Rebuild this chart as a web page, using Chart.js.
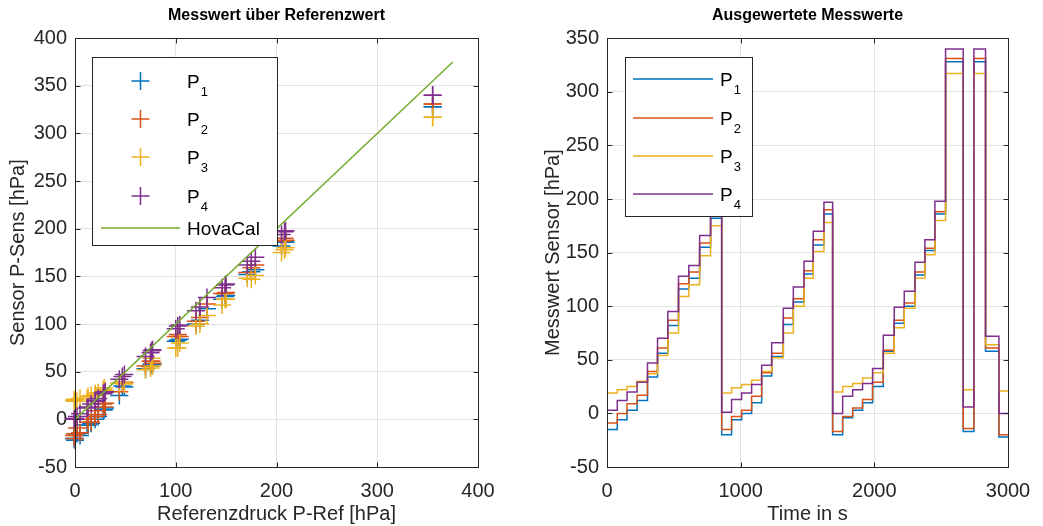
<!DOCTYPE html>
<html lang="de">
<head>
<meta charset="utf-8">
<title>Messwerte</title>
<script src="https://cdn.jsdelivr.net/npm/chart.js@4.4.1/dist/chart.umd.min.js"></script>
<style>
  html, body { margin: 0; padding: 0; background: #fff; }
  #wrap { position: relative; width: 1043px; height: 526px; overflow: hidden; }
  canvas { position: absolute; top: 0; }
  #chart-ref { left: 0; }
  #chart-time { left: 530px; }
</style>
</head>
<body>
<div id="wrap">
  <canvas id="chart-ref" width="521" height="526"></canvas>
  <canvas id="chart-time" width="513" height="526"></canvas>
</div>
<script>
// Beginn jeder Druckstufe [s]: drei Rampen, danach Sprünge auf Vollausschlag
const stepStart = [
  0, 77, 150, 225, 303, 378, 455, 535, 612, 693, 775,
  858, 932, 1007, 1082, 1157, 1232, 1319, 1394, 1474, 1543, 1623,
  1688, 1763, 1838, 1912, 1987, 2067, 2149, 2224, 2304, 2378, 2453,
  2533, 2665, 2745, 2832, 2932
];
const timeEnd = 3000;

// Referenzdruck je Stufe [hPa]
const stepRef = [
  2, 12, 20, 30, 49, 75, 100, 131, 146, 175, 205,
  0, 13, 20, 28, 47, 70, 102, 124, 150, 179, 208,
  -1, 16, 23, 29, 44, 77, 104, 120, 149, 171, 209,
  355, 5, 355, 76, 0
];

// Sensorwerte je Stufe [hPa]
const p1 = [
  -15, -6, 3, 12, 34, 56, 82, 116, 126, 155, 182,
  -20, -6, 0, 10, 35, 53, 83, 104, 130, 157, 186,
  -20, -4, 3, 10, 25, 58, 84, 100, 129, 152, 186,
  328, -17, 328, 58, -22
];
const p2 = [
  -9, 0, 9, 17, 39, 61, 87, 121, 132, 159, 187,
  -15, -3, 3, 16, 38, 56, 89, 107, 133, 162, 190,
  -17, -3, 5, 13, 29, 59, 87, 103, 132, 154, 188,
  331, -14, 331, 61, -20
];
const p3 = [
  19, 22, 25, 30, 37, 54, 75, 109, 120, 147, 175,
  19, 24, 27, 31, 39, 52, 75, 100, 126, 151, 178,
  20, 25, 28, 33, 38, 56, 80, 98, 126, 148, 180,
  317, 22, 317, 64, 21
];
const p4 = [
  3, 12, 20, 29, 47, 70, 95, 128, 138, 166, 194,
  1, 13, 19, 27, 45, 66, 98, 118, 142, 170, 197,
  0, 16, 22, 28, 42, 73, 99, 114, 141, 162, 198,
  340, 6, 340, 72, 0
];

// Kalibrierkennlinie HovaCal
const calRef = [0, 375];
const calSens = [0, 375];

const sensorLabels = ["P1", "P2", "P3", "P4"];
const sensorValues = [p1, p2, p3, p4];
const sensorColors = ["#0072BD", "#D95319", "#EDB120", "#7E2F8E"];
const calColor = "#77AC30";

const FONT = "'Liberation Sans', Arial, Helvetica, sans-serif";
const INK = "#262626";
const GRID = "#e3e3e3";

// Achsenrahmen mit Innen-Ticks und Legende mit tiefgestellten Indizes
const axesFrame = {
  id: "axesFrame",
  afterDatasetsDraw(chart, args, opts) {
    const { ctx, chartArea: a, scales } = chart;
    const L = Math.round(a.left) + 0.5;
    const R = Math.round(a.right) + 0.5;
    const T = Math.round(a.top) + 0.5;
    const B = Math.round(a.bottom) + 0.5;
    ctx.save();
    ctx.strokeStyle = INK;
    ctx.lineWidth = 1;
    ctx.beginPath();
    scales.x.ticks.forEach((t) => {
      const px = Math.round(scales.x.getPixelForValue(t.value)) + 0.5;
      ctx.moveTo(px, B); ctx.lineTo(px, B - 5);
      ctx.moveTo(px, T); ctx.lineTo(px, T + 5);
    });
    scales.y.ticks.forEach((t) => {
      const py = Math.round(scales.y.getPixelForValue(t.value)) + 0.5;
      ctx.moveTo(L, py); ctx.lineTo(L + 5, py);
      ctx.moveTo(R, py); ctx.lineTo(R - 5, py);
    });
    ctx.stroke();
    ctx.strokeRect(L, T, R - L, B - T);

    if (opts && opts.box) {
      const [bx, by, bw, bh] = opts.box;
      ctx.fillStyle = "#fff";
      ctx.fillRect(bx, by, bw, bh);
      ctx.strokeRect(bx + 0.5, by + 0.5, bw, bh);
      chart.data.datasets.forEach((ds, i) => {
        const y = opts.rowY[i];
        const [s0, s1] = opts.symbolX;
        ctx.strokeStyle = ds.borderColor;
        ctx.lineWidth = 1.5;
        ctx.beginPath();
        if (ds.showLine === false) {
          const cx = (s0 + s1) / 2;
          ctx.moveTo(cx - 9, y); ctx.lineTo(cx + 9, y);
          ctx.moveTo(cx, y - 9); ctx.lineTo(cx, y + 9);
        } else {
          ctx.moveTo(s0, y); ctx.lineTo(s1, y);
        }
        ctx.stroke();
        const m = ds.label.match(/^(.*?)(\d+)$/);
        ctx.fillStyle = "#000";
        ctx.textAlign = "left";
        ctx.textBaseline = "alphabetic";
        ctx.font = `${opts.fontSize}px ${FONT}`;
        const base = m ? m[1] : ds.label;
        ctx.fillText(base, opts.textX, y + opts.fontSize * 0.36);
        if (m) {
          const w = ctx.measureText(base).width;
          ctx.font = `${opts.subSize}px ${FONT}`;
          ctx.fillText(m[2], opts.textX + w + 1, y + opts.fontSize * 0.36 + opts.subSize * 0.62);
        }
      });
    }
    ctx.restore();
  }
};

function axisX(min, max, step, label) {
  return {
    type: "linear", min, max,
    ticks: { stepSize: step, color: INK, font: { family: FONT, size: 20 }, padding: 12,
             maxRotation: 0, autoSkip: false, callback: (v) => String(v) },
    grid: { color: GRID, drawTicks: false },
    border: { display: false },
    title: { display: true, text: label, color: INK, font: { family: FONT, size: 20 },
             padding: { top: 0, bottom: 0 } },
    afterFit(scale) { scale.height = 59; }
  };
}

function axisY(min, max, step, label, width, titlePad) {
  return {
    type: "linear", min, max,
    ticks: { stepSize: step, color: INK, font: { family: FONT, size: 20 }, padding: 8,
             autoSkip: false, callback: (v) => String(v) },
    grid: { color: GRID, drawTicks: false },
    border: { display: false },
    title: { display: true, text: label, color: INK, font: { family: FONT, size: 20 },
             padding: { top: titlePad, bottom: 0 } },
    afterFit(scale) { scale.width = width; }
  };
}

function titleOpts(text) {
  return {
    display: true, text, fullSize: false, color: "#000",
    font: { family: FONT, size: 16, weight: "bold" },
    padding: { top: 6, bottom: 13 }
  };
}

// Messwert über Referenzwert
const refSets = sensorLabels.map((label, k) => ({
  label,
  data: stepRef.map((r, i) => ({ x: r, y: sensorValues[k][i] })),
  showLine: false,
  borderColor: sensorColors[k],
  backgroundColor: sensorColors[k],
  pointStyle: "cross",
  pointRadius: 9,
  pointBorderWidth: 1.5,
  clip: false,
  order: 5 - k
}));
refSets.push({
  type: "line",
  label: "HovaCal",
  data: calRef.map((r, i) => ({ x: r, y: calSens[i] })),
  borderColor: calColor,
  borderWidth: 1.5,
  pointRadius: 0,
  order: 0
});

new Chart(document.getElementById("chart-ref"), {
  type: "scatter",
  data: { datasets: refSets },
  options: {
    responsive: false, animation: false, events: [],
    layout: { padding: { left: 0, right: 43, top: 0, bottom: 0 } },
    plugins: {
      legend: { display: false },
      tooltip: { enabled: false },
      title: titleOpts("Messwert über Referenzwert"),
      axesFrame: {
        box: [92, 57, 185, 188],
        rowY: [81, 119, 157, 196, 228],
        symbolX: [101, 180],
        textX: 187,
        fontSize: 19,
        subSize: 13
      }
    },
    scales: {
      x: axisX(0, 400, 100, "Referenzdruck P-Ref [hPa]"),
      y: axisY(-50, 400, 50, "Sensor P-Sens [hPa]", 75, 6)
    }
  },
  plugins: [axesFrame]
});

// Ausgewertete Messwerte über der Zeit
function stepPoints(levels) {
  const pts = levels.map((v, i) => ({ x: stepStart[i], y: v }));
  pts.push({ x: timeEnd, y: levels[levels.length - 1] });
  return pts;
}

const timeSets = sensorLabels.map((label, k) => ({
  label,
  data: stepPoints(sensorValues[k]),
  borderColor: sensorColors[k],
  backgroundColor: sensorColors[k],
  borderWidth: 1.5,
  pointRadius: 0,
  stepped: "before",
  order: 5 - k
}));

new Chart(document.getElementById("chart-time"), {
  type: "line",
  data: { datasets: timeSets },
  options: {
    responsive: false, animation: false, events: [],
    layout: { padding: { left: 0, right: 35, top: 0, bottom: 0 } },
    plugins: {
      legend: { display: false },
      tooltip: { enabled: false },
      title: titleOpts("Ausgewertete Messwerte"),
      axesFrame: {
        box: [95, 57, 127, 159],
        rowY: [79, 118, 156, 194],
        symbolX: [103, 183],
        textX: 190,
        fontSize: 19,
        subSize: 13
      }
    },
    scales: {
      x: axisX(0, 3000, 1000, "Time in s"),
      y: axisY(-50, 350, 50, "Messwert Sensor [hPa]", 77, 11)
    }
  },
  plugins: [axesFrame]
});
</script>
</body>
</html>
